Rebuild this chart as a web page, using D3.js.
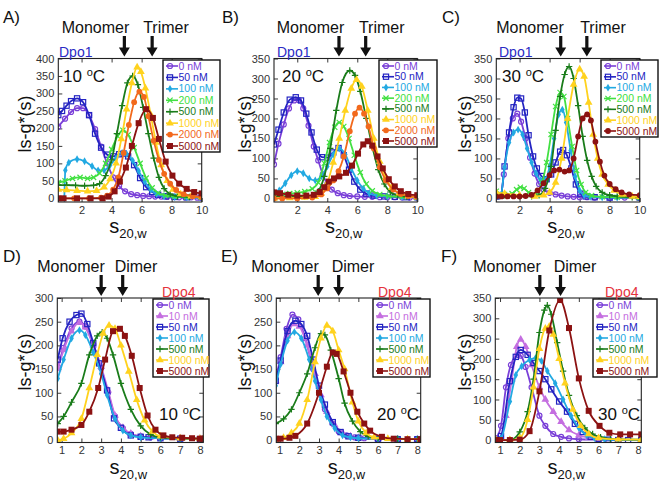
<!DOCTYPE html>
<html><head><meta charset="utf-8">
<script src="https://cdn.jsdelivr.net/npm/d3@7"></script>
<style>body{margin:0;background:#fff} svg{display:block}</style>
</head><body><svg id="c" width="664" height="488"></svg>
<script>
// ---------------- DATA ----------------
const dpo1Labels  = ["0 nM","50 nM","100 nM","200 nM","500 nM","1000 nM","2000 nM","5000 nM"];
const dpo1LabelsC = ["0 nM","50 nM","100 nM","200 nM","500 nM","1000 nM","5000 nM"];
const dpo4Labels  = ["0 nM","10 nM","50 nM","100 nM","500 nM","1000 nM","5000 nM"];
const topXTicks = [2,4,6,8,10];
const botXTicks = [1,2,3,4,5,6,7,8];
const yTicks400 = [0,50,100,150,200,250,300,350,400];
const yTicks350 = [0,50,100,150,200,250,300,350];
const yTicks300 = [0,50,100,150,200,250,300];
const arrowsDpo1 = {A:[4.85,6.7], B:[4.78,6.56], C:[4.74,6.48]};
const arrowsDpo4 = {D:[3.0,4.09], E:[2.96,4.0], F:[3.02,4.07]};
const temps = {A:"10",B:"20",C:"30",D:"10",E:"20",F:"30"};

// Panel A: Dpo1, 10 C
const A0    = [[0.45,205],[0.9,228],[1.3,247],[1.7,258],[2.1,258],[2.5,238],[2.9,198],[3.3,148],[3.7,100],[4.1,60],[4.5,35],[4.9,20],[5.3,12],[5.7,9],[6.1,7],[6.5,6],[6.9,5],[7.3,5],[7.7,4],[8.1,4],[8.5,3],[8.9,3],[9.3,3],[9.7,2],[10,2]];
const A50   = [[0.45,238],[0.7,250],[1.0,265],[1.3,278],[1.7,286],[2.1,275],[2.5,238],[2.9,185],[3.3,145],[3.7,125],[4.1,120],[4.5,126],[4.8,128],[5.1,120],[5.5,95],[5.9,58],[6.3,32],[6.7,18],[7.1,10],[7.6,6],[8.2,4],[9,3],[10,3]];
const A100  = [[0.85,0],[0.92,80],[1.15,102],[1.7,112],[2.2,106],[2.7,92],[3.1,80],[3.5,80],[3.9,95],[4.3,115],[4.7,130],[5.0,127],[5.4,108],[5.8,78],[6.2,48],[6.6,25],[7.0,12],[7.5,6],[8.2,4],[9,3],[10,3]];
const A200  = [[0.45,45],[0.9,50],[1.4,57],[1.9,60],[2.4,57],[2.8,60],[3.2,72],[3.6,100],[4.0,140],[4.4,178],[4.75,195],[5.1,182],[5.5,145],[5.9,100],[6.3,58],[6.7,30],[7.1,15],[7.6,8],[8.2,5],[9,4],[10,3]];
const A500  = [[0.45,38],[1.0,38],[1.6,37],[2.2,36],[2.8,37],[3.2,42],[3.6,65],[4.0,110],[4.35,185],[4.7,265],[5.05,330],[5.4,350],[5.75,325],[6.1,260],[6.45,185],[6.8,115],[7.15,60],[7.5,28],[7.9,12],[8.4,6],[9.2,4],[10,3]];
const A1000 = [[0.45,25],[1.0,24],[1.7,22],[2.4,20],[3.0,22],[3.5,32],[3.9,55],[4.3,100],[4.65,170],[5.0,255],[5.35,330],[5.7,375],[5.95,362],[6.25,315],[6.6,240],[6.95,160],[7.3,95],[7.7,50],[8.1,25],[8.6,12],[9.3,6],[10,4]];
const A2000 = [[0.45,0],[1.5,0],[2.5,0],[3.3,2],[3.7,8],[4.1,25],[4.45,60],[4.8,130],[5.15,210],[5.5,275],[5.85,305],[6.15,290],[6.45,235],[6.8,165],[7.15,110],[7.5,70],[7.9,42],[8.3,24],[8.8,12],[9.4,6],[10,4]];
const A5000 = [[0.45,0],[0.8,0],[1.7,0],[2.6,0],[3.4,0],[3.8,5],[4.2,20],[4.55,48],[4.95,88],[5.35,150],[5.8,215],[6.3,255],[6.75,230],[7.15,170],[7.6,105],[8.05,65],[8.5,42],[9.0,27],[9.5,18],[10,14]];

// Panel B: Dpo1, 20 C
const B0    = [[0.45,85],[0.75,137],[1.1,185],[1.45,225],[1.8,245],[2.1,246],[2.4,225],[2.75,182],[3.1,130],[3.4,95],[3.7,60],[4.0,36],[4.3,22],[4.7,13],[5.1,8],[5.5,6],[6.0,5],[6.5,4],[7.0,4],[7.5,3],[8.0,3],[8.5,3],[9.0,2],[9.5,2],[10,2]];
const B50   = [[0.45,135],[0.75,172],[1.1,215],[1.5,247],[1.9,253],[2.25,245],[2.6,212],[2.95,165],[3.3,122],[3.65,103],[4.0,102],[4.4,115],[4.75,126],[5.1,108],[5.45,72],[5.8,42],[6.2,22],[6.6,12],[7.1,7],[7.8,5],[8.5,4],[9.3,3],[10,3]];
const B100  = [[0.45,15],[0.8,20],[1.2,38],[1.6,58],[2.0,68],[2.4,63],[2.8,50],[3.2,45],[3.6,55],[4.0,80],[4.4,110],[4.8,125],[5.2,110],[5.6,75],[6.0,45],[6.4,25],[6.8,13],[7.3,7],[8.0,5],[9.0,4],[10,3]];
const B200  = [[0.45,10],[1.0,10],[1.5,12],[2.0,14],[2.5,17],[3.0,24],[3.4,40],[3.8,88],[4.15,140],[4.5,178],[4.8,190],[5.1,180],[5.45,150],[5.8,108],[6.2,65],[6.6,36],[7.0,19],[7.5,10],[8.1,6],[9.0,4],[10,3]];
const B500  = [[0.45,5],[1.5,5],[2.5,5],[3.0,7],[3.4,18],[3.8,55],[4.2,125],[4.6,220],[5.0,290],[5.5,320],[5.85,308],[6.2,268],[6.6,200],[7.0,130],[7.4,72],[7.8,36],[8.2,16],[8.7,8],[9.3,4],[10,3]];
const B1000 = [[0.45,0],[1.5,1],[2.5,2],[3.2,4],[3.6,12],[4.0,38],[4.4,90],[4.8,150],[5.2,220],[5.6,275],[5.95,297],[6.3,280],[6.7,220],[7.1,150],[7.5,92],[7.9,52],[8.3,27],[8.8,13],[9.4,6],[10,3]];
const B2000 = [[0.45,0],[1.0,0],[2.0,0],[3.0,2],[3.6,10],[4.0,25],[4.4,45],[4.75,68],[5.1,105],[5.5,168],[5.85,212],[6.15,227],[6.45,212],[6.75,180],[7.1,125],[7.5,78],[7.9,45],[8.4,22],[8.9,11],[9.4,6],[10,4]];
const B5000 = [[0.45,15],[0.85,13],[1.4,9],[2.0,7],[2.6,7],[3.1,9],[3.5,16],[3.8,28],[4.1,42],[4.45,50],[4.8,55],[5.25,64],[5.65,82],[6.05,112],[6.4,135],[6.7,143],[7.0,132],[7.35,105],[7.7,75],[8.1,48],[8.5,30],[8.9,18],[9.4,11],[10,8]];

// Panel C: Dpo1, 30 C
const C0    = [[0.45,8],[0.75,8],[0.95,60],[1.25,150],[1.55,200],[1.85,212],[2.1,192],[2.4,150],[2.7,102],[3.0,62],[3.3,36],[3.6,22],[4.0,14],[4.4,10],[4.8,7],[5.2,5],[5.6,4],[6.0,3],[6.5,3],[7.0,2],[8.0,2],[9.0,2],[10,2]];
const C50   = [[0.45,5],[0.75,8],[1.0,80],[1.3,165],[1.6,228],[1.85,252],[2.1,250],[2.35,215],[2.6,158],[2.9,105],[3.15,75],[3.45,56],[3.8,48],[4.1,60],[4.4,90],[4.7,117],[4.9,121],[5.15,108],[5.45,75],[5.75,35],[6.05,12],[6.4,5],[7.0,3],[8.0,2],[10,2]];
const C100  = [[0.45,8],[0.75,8],[1.0,78],[1.3,140],[1.6,165],[1.9,172],[2.2,160],[2.5,125],[2.8,90],[3.1,62],[3.4,46],[3.7,46],[4.0,80],[4.3,150],[4.6,210],[4.85,222],[5.1,190],[5.4,120],[5.7,55],[6.0,20],[6.3,8],[6.7,4],[7.5,3],[8.5,2],[10,2]];
const C200  = [[0.45,18],[1.0,10],[1.5,12],[1.8,22],[2.05,28],[2.3,25],[2.6,15],[2.9,10],[3.2,15],[3.5,40],[3.8,90],[4.1,160],[4.4,230],[4.7,265],[4.95,255],[5.2,200],[5.5,130],[5.8,70],[6.1,35],[6.4,15],[6.8,7],[7.5,4],[8.5,3],[10,2]];
const C500  = [[0.45,10],[1.0,8],[2.0,5],[2.8,5],[3.3,8],[3.7,25],[4.1,80],[4.4,170],[4.7,255],[5.0,310],[5.3,330],[5.6,300],[5.9,232],[6.2,155],[6.5,95],[6.8,55],[7.1,30],[7.5,15],[8.0,8],[8.5,5],[9.5,3],[10,3]];
const C1000 = [[0.45,15],[1.0,12],[2.0,8],[3.0,5],[3.6,8],[4.0,15],[4.4,40],[4.8,100],[5.2,200],[5.6,285],[6.0,323],[6.3,305],[6.6,240],[6.9,160],[7.2,100],[7.5,60],[7.9,35],[8.3,20],[8.8,10],[9.5,5],[10,4]];
const C5000 = [[0.45,5],[0.8,5],[1.2,5],[1.6,5],[2.0,5],[2.4,6],[2.8,9],[3.2,20],[3.6,38],[4.0,58],[4.3,70],[4.65,72],[5.0,67],[5.3,70],[5.6,100],[5.9,155],[6.2,200],[6.5,210],[6.75,195],[7.05,142],[7.35,92],[7.65,57],[8.0,36],[8.4,23],[8.8,15],[9.3,10],[10,8]];

// Panel D: Dpo4, 10 C
const D0    = [[0.8,155],[1.1,195],[1.5,236],[1.9,250],[2.2,240],[2.6,202],[3.0,152],[3.35,100],[3.7,50],[4.1,25],[4.5,13],[5.0,8],[5.5,6],[6.0,5],[7.0,4],[8.0,3],[8.17,3]];
const D10   = [[0.8,150],[1.1,190],[1.5,230],[1.9,248],[2.2,238],[2.6,200],[3.0,155],[3.35,105],[3.7,52],[4.1,26],[4.5,14],[5.0,8],[5.5,6],[6.0,5],[7.0,4],[8.0,3],[8.17,3]];
const D50   = [[0.8,170],[1.05,215],[1.4,250],[1.75,264],[2.0,267],[2.3,245],[2.6,205],[2.9,162],[3.3,105],[3.65,46],[4.0,26],[4.5,10],[5.0,7],[5.4,6],[6.0,4],[7.0,3],[8.0,2],[8.17,2]];
const D100  = [[0.8,130],[1.1,170],[1.5,215],[1.9,232],[2.2,222],[2.6,185],[3.0,140],[3.3,95],[3.7,45],[4.1,20],[4.5,10],[5.0,6],[6.0,4],[7.0,3],[8.0,2],[8.17,2]];
const D500  = [[0.8,35],[1.1,50],[1.5,80],[2.0,120],[2.4,180],[2.8,220],[3.05,228],[3.3,215],[3.6,180],[4.0,120],[4.5,65],[5.0,30],[5.5,12],[6.0,6],[7.0,4],[8.0,3],[8.17,3]];
const D1000 = [[0.8,0],[1.1,3],[1.5,15],[2.0,45],[2.4,110],[2.8,180],[3.1,225],[3.4,242],[3.7,235],[4.0,200],[4.4,145],[4.8,85],[5.2,42],[5.6,18],[6.0,8],[7.0,4],[8.0,3],[8.17,3]];
const D5000 = [[0.8,18],[1.1,18],[1.5,22],[2.0,32],[2.4,60],[2.85,110],[3.2,170],[3.6,230],[3.95,235],[4.2,220],[4.55,178],[4.95,110],[5.35,52],[5.75,22],[6.15,10],[6.6,6],[7.1,5],[7.6,4],[8.0,3],[8.17,3]];

// Panel E: Dpo4, 20 C
const E0    = [[0.8,130],[1.05,175],[1.35,235],[1.65,265],[1.95,255],[2.3,215],[2.7,150],[3.0,100],[3.3,65],[3.7,35],[4.0,18],[4.4,10],[4.8,6],[5.3,4],[6,3],[7,2],[8,2],[8.17,2]];
const E10   = [[0.8,125],[1.05,165],[1.4,220],[1.7,245],[2.0,240],[2.4,200],[2.8,140],[3.1,95],[3.4,60],[3.8,32],[4.2,15],[4.6,8],[5,5],[6,3],[7,2],[8,2],[8.17,2]];
const E50   = [[0.8,125],[1.05,168],[1.4,230],[1.8,252],[2.1,245],[2.4,220],[2.7,170],[3.0,115],[3.3,75],[3.7,38],[4.1,17],[4.5,8],[5,5],[6,3],[7,2],[8,2],[8.17,2]];
const E100  = [[0.8,115],[1.05,160],[1.4,210],[1.75,228],[2.1,215],[2.5,170],[2.8,125],[3.1,85],[3.4,50],[3.8,25],[4.2,10],[4.6,6],[5,4],[6,3],[7,2],[8,2],[8.17,2]];
const E500  = [[0.8,35],[1.2,45],[1.6,65],[2.0,100],[2.4,140],[2.8,195],[3.1,225],[3.3,222],[3.6,190],[4.0,130],[4.3,78],[4.7,40],[5.1,18],[5.5,8],[6,4],[7,3],[8,2],[8.17,2]];
const E1000 = [[0.8,2],[1.2,5],[1.6,15],[2.0,35],[2.4,85],[2.8,165],[3.1,215],[3.4,242],[3.7,230],[4.0,190],[4.3,150],[4.7,80],[5.0,40],[5.4,15],[5.8,6],[6.5,3],[7.5,2],[8.17,2]];
const E5000 = [[0.8,3],[1.05,3],[1.5,5],[1.8,9],[2.4,35],[3.0,100],[3.4,155],[3.7,185],[3.9,182],[4.25,145],[4.6,100],[4.95,60],[5.3,35],[5.6,20],[6.2,7],[6.8,3],[7.5,2],[8.17,2]];

// Panel F: Dpo4, 30 C
const F0    = [[0.8,5],[1.05,35],[1.3,130],[1.55,185],[1.9,210],[2.05,208],[2.3,180],[2.6,130],[3.0,60],[3.3,35],[3.7,15],[4.1,8],[4.5,4],[5,2],[6,1],[7,0],[8.17,0]];
const F10   = [[0.8,0],[1.05,5],[1.3,60],[1.6,150],[1.85,230],[2.05,248],[2.3,230],[2.6,185],[3.0,130],[3.3,100],[3.7,70],[4.1,45],[4.5,25],[5.0,12],[5.5,6],[6.0,3],[7,1],[8.17,0]];
const F50   = [[0.8,0],[1.05,10],[1.5,145],[1.8,205],[2.05,222],[2.4,210],[2.7,190],[3.0,170],[3.3,150],[3.6,125],[4.0,95],[4.4,70],[4.8,40],[5.2,20],[5.6,8],[6.0,3],[6.5,1],[7,0],[7.5,0],[8.17,0]];
const F100  = [[0.8,0],[1.05,5],[1.5,95],[1.8,160],[2.1,182],[2.5,198],[2.8,202],[3.1,195],[3.4,170],[3.8,140],[4.2,100],[4.6,60],[5.0,30],[5.4,12],[5.8,5],[6.3,2],[7,0],[8.17,0]];
const F500  = [[0.8,0],[1.5,0],[2.0,20],[2.4,70],[2.7,150],[3.0,265],[3.25,320],[3.4,332],[3.6,310],[3.9,240],[4.2,170],[4.5,110],[4.9,60],[5.3,30],[5.7,15],[6.1,7],[6.6,3],[7,2],[8.17,1]];
const F1000 = [[0.8,0],[1.5,0],[2.0,5],[2.4,50],[2.7,130],[3.0,225],[3.3,275],[3.5,280],[3.7,260],[4.0,200],[4.3,140],[4.7,75],[5.1,35],[5.5,15],[6,5],[7,2],[8.17,1]];
const F5000 = [[0.8,0],[1.0,0],[1.5,0],[2.0,1],[2.5,22],[3.0,120],[3.5,270],[4.05,345],[4.5,276],[5.0,152],[5.5,72],[6.05,35],[6.55,18],[7.1,14],[7.6,14],[8.17,14]];

// ---------------- STYLE / LAYOUT ----------------
const FONT = "'Liberation Sans', Arial, Helvetica, sans-serif";
const seriesStyle = {
  "0 nM":    {color:"#7a3fd8", shape:"circleOpen"},
  "10 nM":   {color:"#c46ee0", shape:"triangle"},
  "50 nM":   {color:"#2424c2", shape:"squareOpen"},
  "100 nM":  {color:"#22a9e2", shape:"diamond"},
  "200 nM":  {color:"#42e042", shape:"x"},
  "500 nM":  {color:"#1a7c1a", shape:"plus"},
  "1000 nM": {color:"#ffd21e", shape:"triangle"},
  "2000 nM": {color:"#f2691c", shape:"circle"},
  "5000 nM": {color:"#8c1212", shape:"square"}
};

const panels = [
  {id:"A", protein:"Dpo1", labels:dpo1Labels, series:[A0,A50,A100,A200,A500,A1000,A2000,A5000],
   yTicks:yTicks400, xTicks:topXTicks, arrows:arrowsDpo1.A, arrowNames:["Monomer","Trimer"],
   box:{l:58.3,t:58.5,w:143.4,h:143.5}, xd:[0.45,10], yd:[-10.5,400],
   legend:{x:163,y:60,w:57,h:92}, nameX:59, tempPos:[63,82], namePos:[95.5,166], letter:[3,23], yTitle:[25,124]},
  {id:"B", protein:"Dpo1", labels:dpo1Labels, series:[B0,B50,B100,B200,B500,B1000,B2000,B5000],
   yTicks:yTicks350, xTicks:topXTicks, arrows:arrowsDpo1.B, arrowNames:["Monomer","Trimer"],
   box:{l:274,t:58.5,w:143.3,h:143.5}, xd:[0.45,10], yd:[-9,350],
   legend:{x:379,y:60,w:58,h:87}, nameX:277, tempPos:[282,82], namePos:[310.5,381.7], letter:[222,23], yTitle:[245,124]},
  {id:"C", protein:"Dpo1", labels:dpo1LabelsC, series:[C0,C50,C100,C200,C500,C1000,C5000],
   yTicks:yTicks350, xTicks:topXTicks, arrows:arrowsDpo1.C, arrowNames:["Monomer","Trimer"],
   box:{l:496.3,t:58.5,w:143.4,h:143.5}, xd:[0.45,10], yd:[-9,350], shapeOverride:{"5000 nM":"circle"},
   legend:{x:601,y:60,w:57,h:77}, nameX:499, tempPos:[502,82], namePos:[530,603], letter:[442,23], yTitle:[465,124]},
  {id:"D", protein:"Dpo4", labels:dpo4Labels, series:[D0,D10,D50,D100,D500,D1000,D5000],
   yTicks:yTicks300, xTicks:botXTicks, arrows:arrowsDpo4.D, arrowNames:["Monomer","Dimer"],
   box:{l:57.3,t:298,w:146,h:144.5}, xd:[0.78,8.17], yd:[-5,300],
   legend:{x:153,y:299,w:56,h:78}, nameX:162, tempPos:[159,420], namePos:[71,136], letter:[3,262], yTitle:[25,362]},
  {id:"E", protein:"Dpo4", labels:dpo4Labels, series:[E0,E10,E50,E100,E500,E1000,E5000],
   yTicks:yTicks300, xTicks:botXTicks, arrows:arrowsDpo4.E, arrowNames:["Monomer","Dimer"],
   box:{l:276.3,t:298,w:144.4,h:144.5}, xd:[0.83,8.17], yd:[-5,300],
   legend:{x:373,y:299,w:57,h:78}, nameX:378, tempPos:[377,420], namePos:[285,353], letter:[221,262], yTitle:[245,362]},
  {id:"F", protein:"Dpo4", labels:dpo4Labels, series:[F0,F10,F50,F100,F500,F1000,F5000],
   yTicks:yTicks350, xTicks:botXTicks, arrows:arrowsDpo4.F, arrowNames:["Monomer","Dimer"],
   box:{l:495.3,t:298,w:146,h:144.5}, xd:[0.76,8.17], yd:[-6,350],
   legend:{x:593,y:299,w:64,h:78}, nameX:605, tempPos:[598,420], namePos:[507,575], letter:[441,262], yTitle:[465,362]}
];

// ---------------- DRAW ----------------
const svg = d3.select("#c");
svg.append("rect").attr("width",664).attr("height",488).attr("fill","#fff");
const defs = svg.append("defs");

function drawMarker(g, shape, color, cx, cy) {
  const sw = 1.2;
  switch (shape) {
    case "circleOpen":
      g.append("circle").attr("cx",cx).attr("cy",cy).attr("r",2.5).attr("fill","none").attr("stroke",color).attr("stroke-width",sw); break;
    case "circle":
      g.append("circle").attr("cx",cx).attr("cy",cy).attr("r",2.9).attr("fill",color); break;
    case "squareOpen":
      g.append("rect").attr("x",cx-2.6).attr("y",cy-2.6).attr("width",5.2).attr("height",5.2).attr("fill","none").attr("stroke",color).attr("stroke-width",sw); break;
    case "square":
      g.append("rect").attr("x",cx-3).attr("y",cy-3).attr("width",6).attr("height",6).attr("fill",color); break;
    case "triangle":
      g.append("path").attr("transform",`translate(${cx},${cy})`).attr("d",d3.symbol(d3.symbolTriangle,26)()).attr("fill",color); break;
    case "diamond":
      g.append("path").attr("transform",`translate(${cx},${cy})`).attr("d",d3.symbol(d3.symbolDiamond,18)()).attr("fill",color); break;
    case "x":
      g.append("path").attr("d",`M${cx-2.6},${cy-2.6}L${cx+2.6},${cy+2.6}M${cx-2.6},${cy+2.6}L${cx+2.6},${cy-2.6}`).attr("stroke",color).attr("stroke-width",sw); break;
    case "plus":
      g.append("path").attr("d",`M${cx-3.2},${cy}L${cx+3.2},${cy}M${cx},${cy-3.2}L${cx},${cy+3.2}`).attr("stroke",color).attr("stroke-width",sw); break;
  }
}

panels.forEach(p => {
  const b = p.box;
  const x = d3.scaleLinear().domain(p.xd).range([b.l, b.l + b.w]);
  const y = d3.scaleLinear().domain(p.yd).range([b.t + b.h, b.t]);
  const g = svg.append("g");
  const clipId = "clip" + p.id;
  defs.append("clipPath").attr("id", clipId).append("rect")
    .attr("x", b.l).attr("y", b.t).attr("width", b.w).attr("height", b.h);

  const styleAxis = sel => {
    sel.select(".domain").remove();
    sel.selectAll(".tick line").attr("stroke","#222").attr("stroke-width",0.9);
    sel.selectAll(".tick text").attr("font-family",FONT).attr("font-size",11).attr("fill","#333");
  };
  g.append("g").attr("transform",`translate(0,${b.t+b.h})`)
    .call(d3.axisBottom(x).tickValues(p.xTicks).tickSizeInner(-4).tickSizeOuter(0).tickPadding(4).tickFormat(d3.format("d")))
    .call(styleAxis);
  g.append("g").attr("transform",`translate(0,${b.t})`)
    .call(d3.axisTop(x).tickValues(p.xTicks).tickSizeInner(-4).tickSizeOuter(0).tickFormat(""))
    .call(styleAxis);
  g.append("g").attr("transform",`translate(${b.l},0)`)
    .call(d3.axisLeft(y).tickValues(p.yTicks).tickSizeInner(-4).tickSizeOuter(0).tickPadding(4).tickFormat(d3.format("d")))
    .call(styleAxis);
  g.append("g").attr("transform",`translate(${b.l+b.w},0)`)
    .call(d3.axisRight(y).tickValues(p.yTicks).tickSizeInner(-4).tickSizeOuter(0).tickFormat(""))
    .call(styleAxis);

  const plot = g.append("g").attr("clip-path", `url(#${clipId})`);
  const line = d3.line().x(d => x(d[0])).y(d => y(d[1])).curve(d3.curveMonotoneX);
  p.series.forEach((data, i) => {
    const lab = p.labels[i];
    const st = seriesStyle[lab];
    const shape = (p.shapeOverride && p.shapeOverride[lab]) || st.shape;
    plot.append("path").datum(data).attr("d", line).attr("fill","none")
      .attr("stroke", st.color).attr("stroke-width", 1.8);
    const mg = plot.append("g");
    data.forEach(d => drawMarker(mg, shape, st.color, x(d[0]), y(d[1])));
  });

  g.append("rect").attr("x",b.l).attr("y",b.t).attr("width",b.w).attr("height",b.h)
    .attr("fill","none").attr("stroke","#222").attr("stroke-width",1.1);

  const L = p.legend;
  const lg = g.append("g");
  lg.append("rect").attr("x",L.x).attr("y",L.y).attr("width",L.w).attr("height",L.h)
    .attr("fill","#fff").attr("stroke","#111").attr("stroke-width",1.4);
  const n = p.labels.length;
  const step = (L.h - 12) / (n - 1);
  p.labels.forEach((lab, i) => {
    const st = seriesStyle[lab];
    const shape = (p.shapeOverride && p.shapeOverride[lab]) || st.shape;
    const cy = L.y + 6 + i * step;
    lg.append("line").attr("x1",L.x+3).attr("x2",L.x+15).attr("y1",cy).attr("y2",cy)
      .attr("stroke",st.color).attr("stroke-width",1.6);
    drawMarker(lg, shape, st.color, L.x+7, cy);
    lg.append("text").attr("x",L.x+15.5).attr("y",cy+3.6).text(lab)
      .attr("font-family",FONT).attr("font-size",10.5).attr("fill",st.color);
  });

  g.append("text").attr("x",p.nameX).attr("y", b.t - 1.5).text(p.protein)
    .attr("font-family",FONT).attr("font-size",14)
    .attr("fill", p.protein === "Dpo1" ? "#2a2ac4" : "#e5323c");

  const tt = g.append("text").attr("x",p.tempPos[0]).attr("y",p.tempPos[1])
    .attr("font-family",FONT).attr("font-size",17).attr("fill","#111");
  tt.append("tspan").text(temps[p.id] + " ");
  tt.append("tspan").attr("font-size",11).attr("dy",-6).text("o");
  tt.append("tspan").attr("dy",6).text("C");

  const topY = p.id < "D" ? 33 : 272;
  p.arrowNames.forEach((nm, i) => {
    g.append("text").attr("x",p.namePos[i]).attr("y",topY).attr("text-anchor","middle")
      .text(nm).attr("font-family",FONT).attr("font-size",16).attr("fill","#111");
  });
  p.arrows.forEach(v => {
    const ax = x(v);
    const y0 = topY + 3, y1 = b.t - 2;
    g.append("path")
      .attr("d",`M${ax-1.6},${y0}L${ax+1.6},${y0}L${ax+1.6},${y1-9}L${ax+5.5},${y1-9}L${ax},${y1}L${ax-5.5},${y1-9}L${ax-1.6},${y1-9}Z`)
      .attr("fill","#111");
  });

  g.append("text").attr("x",p.letter[0]).attr("y",p.letter[1]).text(p.id + ")")
    .attr("font-family",FONT).attr("font-size",17).attr("fill","#111");

  g.append("text").attr("transform",`translate(${p.yTitle[0]},${p.yTitle[1]}) rotate(-90)`)
    .attr("text-anchor","middle").attr("dy","0.35em").text("ls-g*(s)")
    .attr("font-family",FONT).attr("font-size",18).attr("fill","#111");

  const xt = g.append("text").attr("x", b.l + b.w/2 - 2).attr("y", b.t + b.h + 31)
    .attr("text-anchor","middle").attr("font-family",FONT).attr("fill","#111");
  xt.append("tspan").attr("font-size",20).text("s");
  xt.append("tspan").attr("font-size",13).attr("dy",5).text("20,w");
});
</script>
</body></html>
